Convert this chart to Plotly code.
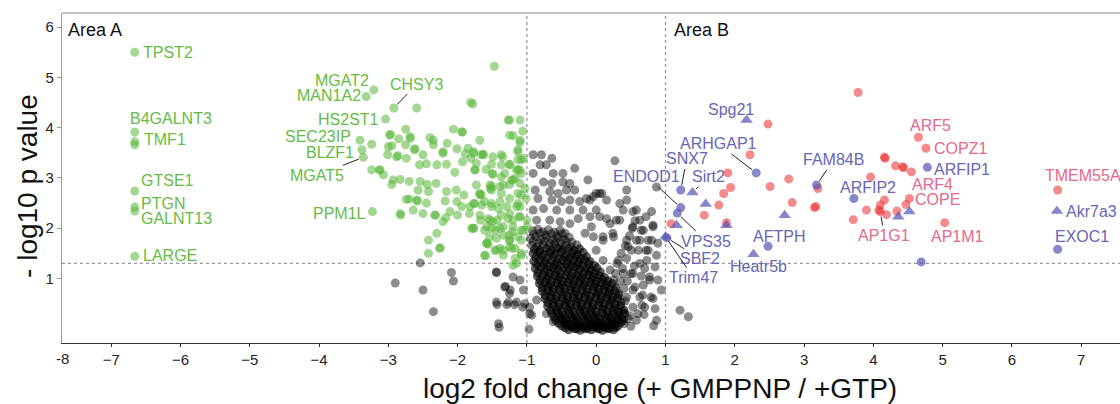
import plotly.graph_objects as go

# ---------------- DATA ----------------
fc_cut = 1.0
p_cut = 1.3

x_ticks = [-7, -6, -5, -4, -3, -2, -1, 0, 1, 2, 3, 4, 5, 6, 7]
y_ticks = [1, 2, 3, 4, 5, 6]

# non-significant proteins (black), scattered part
gray_pts = [
    # upper part of cloud
    (-0.91, 3.46), (-0.79, 3.46), (-0.64, 3.39), (-0.81, 3.26), (-0.72, 3.26), (-0.91, 3.09),
    (-0.62, 3.09), (-0.48, 3.09), (-0.31, 3.19), (-0.76, 2.92), (-0.64, 2.89), (-0.48, 2.92),
    (-0.38, 2.89), (-0.88, 2.76), (-0.67, 2.73), (-0.55, 2.69), (-0.43, 2.76), (-0.31, 2.76),
    (-0.12, 2.96), (-0.14, 2.59), (0.00, 2.69), (-0.84, 2.59), (-0.64, 2.56), (-0.50, 2.53),
    (-0.38, 2.56), (-0.24, 2.53), (-0.91, 2.36), (-0.76, 2.39), (-0.57, 2.36), (-0.38, 2.36),
    (-0.19, 2.36), (-0.09, 2.23), (-0.26, 2.19), (-0.07, 2.03), (0.00, 2.36), (-0.16, 1.90),
    (-0.04, 1.83), (-0.67, 2.16), (-0.52, 2.13), (-0.38, 2.09), (-0.86, 2.16),
    # upper-left shoulder of the core
    (-0.92, 1.95), (-0.84, 1.98), (-0.77, 1.93), (-0.69, 1.97), (-0.60, 1.92), (-0.52, 1.96), (-0.45, 1.90),
    (-0.95, 1.80), (-0.87, 1.83), (-0.80, 1.78), (-0.71, 1.82), (-0.63, 1.77), (-0.55, 1.81), (-0.47, 1.78),
    (-0.39, 1.82),
    (-0.93, 1.66), (-0.85, 1.63), (-0.77, 1.67), (-0.68, 1.64), (-0.60, 1.68), (-0.52, 1.62), (-0.44, 1.66),
    (-0.36, 1.63), (-0.28, 1.67),
    (-0.90, 1.88), (-0.81, 1.90), (-0.73, 1.86), (-0.65, 1.89), (-0.57, 1.85), (-0.49, 1.89),
    (-0.91, 1.73), (-0.83, 1.71), (-0.75, 1.74), (-0.67, 1.70), (-0.59, 1.73), (-0.51, 1.71), (-0.43, 1.74),
    (-0.35, 1.72),
    # left, below threshold
    (-1.44, 1.13), (-1.32, 0.83), (-1.20, 1.03), (-1.10, 0.97), (-1.25, 0.70), (-1.05, 0.77),
    (-1.44, 0.53), (-1.27, 0.53), (-1.15, 0.53), (-1.03, 0.50), (-0.96, 0.43), (-1.41, 0.10),
    (-0.96, 0.30), (-0.86, 0.57), (-0.72, 0.30), (-0.62, 0.14),
    (-2.90, 0.91), (-2.50, 0.77), (-2.06, 0.95), (-2.35, 0.34), (-1.43, 0.48), (-1.40, 0.03),
    (-1.29, 0.48), (-1.18, 0.48), (-1.06, 0.43), (-0.93, 0.27), (-0.97, -0.01), (-1.31, 0.84),
    (-1.24, 0.77), (-2.54, 1.31), (-2.09, 1.12), (-1.44, 1.12),
    # right arm
    (0.27, 3.34), (0.08, 2.69), (-0.04, 2.63), (0.53, 2.33), (0.80, 2.33), (0.63, 2.16),
    (0.82, 2.03), (0.68, 1.96), (0.75, 1.76), (0.58, 1.76), (0.44, 1.76), (0.46, 1.63),
    (0.61, 1.56), (0.75, 1.56), (0.89, 1.70), (0.87, 1.46), (0.73, 1.36), (0.85, 1.23),
    (0.77, 1.03), (0.89, 0.97), (0.68, 0.87), (0.53, 0.77), (0.44, 0.63), (0.63, 0.63),
    (0.82, 0.60), (0.94, 0.77), (0.53, 0.43), (0.70, 0.43), (0.85, 0.40), (0.87, 0.17),
    (0.58, 0.17), (0.32, 1.36), (0.20, 1.17), (0.39, 1.10), (0.25, 0.97), (0.05, 2.23),
    (0.20, 2.09), (0.34, 2.16), (0.39, 2.36), (0.25, 1.83), (0.10, 1.76), (0.00, 1.56),
    (0.10, 1.36), (1.21, 0.37), (1.33, 0.24), (0.44, 2.76), (0.87, 2.82),
    (0.67, 0.67), (0.79, 0.63), (0.66, 0.47), (0.83, 0.06), (0.56, 0.83), (0.48, 0.26),
    (0.69, 0.28), (0.72, 2.23), (0.58, 2.36), (0.53, 2.03), (0.65, 1.96), (0.82, 2.06),
    (0.80, 1.76), (0.63, 1.76), (0.51, 1.56), (0.44, 1.40), (0.72, 1.56), (0.63, 1.30),
    (0.53, 1.10), (0.77, 0.97), (0.29, 2.16), (0.15, 2.19), (0.10, 1.83), (0.24, 1.90),
    (0.44, 2.56), (0.34, 2.49), (0.15, 2.56), (0.05, 2.69), (-0.09, 2.56),
    (0.30, 1.30), (0.36, 1.50), (0.42, 1.65), (0.48, 1.85), (0.52, 2.00), (0.56, 2.15),
    (0.28, 1.10), (0.35, 0.95), (0.40, 0.80), (0.45, 0.95), (0.50, 1.10), (0.55, 1.25),
    (0.38, 1.20), (0.33, 0.70), (0.42, 0.55), (0.38, 0.35), (0.46, 0.20), (0.50, 0.05),
    (0.40, 0.10), (0.60, 0.30), (0.65, 1.05), (0.70, 1.20),
]

# non-significant proteins (black), dense core near the origin
core_pts = [
    (-0.91, 1.50), (-0.83, 1.53), (-0.75, 1.48), (-0.67, 1.52), (-0.59, 1.49), (-0.51, 1.53), (-0.43, 1.47),
    (-0.35, 1.51), (-0.27, 1.48), (-0.19, 1.52),
    (-0.90, 1.34), (-0.82, 1.37), (-0.74, 1.33), (-0.65, 1.36), (-0.57, 1.32), (-0.49, 1.37), (-0.41, 1.34),
    (-0.33, 1.36), (-0.25, 1.33), (-0.17, 1.37), (-0.09, 1.34),
    (-0.88, 1.20), (-0.80, 1.22), (-0.71, 1.18), (-0.63, 1.21), (-0.55, 1.17), (-0.47, 1.22), (-0.39, 1.19),
    (-0.31, 1.23), (-0.23, 1.18), (-0.15, 1.21), (-0.07, 1.17), (0.01, 1.21),
    (-0.85, 1.05), (-0.77, 1.07), (-0.69, 1.03), (-0.60, 1.06), (-0.52, 1.02), (-0.44, 1.07), (-0.36, 1.04),
    (-0.28, 1.06), (-0.20, 1.02), (-0.12, 1.07), (-0.04, 1.03), (0.04, 1.06), (0.12, 1.02),
    (-0.82, 0.90), (-0.74, 0.92), (-0.66, 0.88), (-0.57, 0.91), (-0.49, 0.87), (-0.41, 0.92), (-0.33, 0.89),
    (-0.25, 0.91), (-0.17, 0.87), (-0.09, 0.92), (-0.01, 0.88), (0.07, 0.91), (0.15, 0.87), (0.23, 0.90),
    (-0.78, 0.75), (-0.70, 0.77), (-0.62, 0.73), (-0.53, 0.76), (-0.45, 0.72), (-0.37, 0.77), (-0.29, 0.74),
    (-0.21, 0.76), (-0.13, 0.72), (-0.05, 0.77), (0.03, 0.73), (0.11, 0.76), (0.19, 0.72), (0.27, 0.75),
    (-0.74, 0.60), (-0.66, 0.62), (-0.58, 0.58), (-0.49, 0.61), (-0.41, 0.57), (-0.33, 0.62), (-0.25, 0.59),
    (-0.17, 0.61), (-0.09, 0.57), (-0.01, 0.62), (0.07, 0.58), (0.15, 0.61), (0.23, 0.57), (0.31, 0.60),
    (-0.70, 0.45), (-0.62, 0.47), (-0.54, 0.43), (-0.45, 0.46), (-0.37, 0.42), (-0.29, 0.47), (-0.21, 0.44),
    (-0.13, 0.46), (-0.05, 0.42), (0.03, 0.47), (0.11, 0.43), (0.19, 0.46), (0.27, 0.42), (0.35, 0.45),
    (-0.64, 0.30), (-0.56, 0.32), (-0.48, 0.28), (-0.39, 0.31), (-0.31, 0.27), (-0.23, 0.32), (-0.15, 0.29),
    (-0.07, 0.31), (0.01, 0.27), (0.09, 0.32), (0.17, 0.28), (0.25, 0.31), (0.33, 0.27), (0.41, 0.30),
    (-0.58, 0.17), (-0.50, 0.19), (-0.42, 0.15), (-0.33, 0.18), (-0.25, 0.14), (-0.17, 0.19), (-0.09, 0.16),
    (-0.01, 0.18), (0.07, 0.14), (0.15, 0.19), (0.23, 0.15), (0.31, 0.18), (0.39, 0.16),
    (-0.50, 0.06), (-0.42, 0.08), (-0.34, 0.04), (-0.25, 0.07), (-0.17, 0.03), (-0.09, 0.08), (-0.01, 0.05),
    (0.07, 0.07), (0.15, 0.03), (0.23, 0.08), (0.31, 0.05),
    (-0.40, -0.02), (-0.31, 0.00), (-0.23, -0.03), (-0.15, 0.00), (-0.07, -0.02), (0.01, 0.01), (0.09, -0.03),
    (0.17, 0.00), (0.25, -0.02),
    (-0.89, 1.58), (-0.81, 1.56), (-0.72, 1.59), (-0.64, 1.56), (-0.56, 1.60), (-0.48, 1.57), (-0.40, 1.59),
    (-0.32, 1.56), (-0.24, 1.59),
    (-0.87, 1.42), (-0.79, 1.44), (-0.70, 1.41), (-0.62, 1.44), (-0.54, 1.40), (-0.46, 1.43), (-0.38, 1.41),
    (-0.30, 1.44), (-0.22, 1.40), (-0.14, 1.43),
    (-0.85, 1.27), (-0.76, 1.29), (-0.68, 1.25), (-0.60, 1.28), (-0.52, 1.25), (-0.43, 1.29), (-0.35, 1.26),
    (-0.27, 1.28), (-0.19, 1.25), (-0.11, 1.29), (-0.03, 1.26),
    (-0.84, 1.12), (-0.75, 1.14), (-0.67, 1.10), (-0.59, 1.13), (-0.51, 1.09), (-0.42, 1.14), (-0.34, 1.11),
    (-0.26, 1.13), (-0.18, 1.09), (-0.10, 1.14), (-0.02, 1.10), (0.06, 1.13),
    (-0.81, 0.97), (-0.72, 0.99), (-0.64, 0.95), (-0.56, 0.98), (-0.48, 0.94), (-0.39, 0.99), (-0.31, 0.96),
    (-0.23, 0.98), (-0.15, 0.94), (-0.07, 0.99), (0.01, 0.95), (0.09, 0.98), (0.17, 0.95),
    (-0.78, 0.82), (-0.70, 0.84), (-0.61, 0.80), (-0.53, 0.83), (-0.45, 0.79), (-0.37, 0.84), (-0.29, 0.81),
    (-0.20, 0.83), (-0.12, 0.79), (-0.04, 0.84), (0.04, 0.80), (0.12, 0.83), (0.20, 0.79), (0.28, 0.82),
    (-0.74, 0.67), (-0.66, 0.69), (-0.57, 0.65), (-0.49, 0.68), (-0.41, 0.64), (-0.33, 0.69), (-0.25, 0.66),
    (-0.16, 0.68), (-0.08, 0.64), (0.00, 0.69), (0.08, 0.65), (0.16, 0.68), (0.24, 0.64), (0.32, 0.67),
    (-0.70, 0.52), (-0.62, 0.54), (-0.53, 0.50), (-0.45, 0.53), (-0.37, 0.49), (-0.29, 0.54), (-0.21, 0.51),
    (-0.12, 0.53), (-0.04, 0.49), (0.04, 0.54), (0.12, 0.50), (0.20, 0.53), (0.28, 0.49), (0.36, 0.52),
    (-0.66, 0.37), (-0.58, 0.39), (-0.49, 0.35), (-0.41, 0.38), (-0.33, 0.34), (-0.25, 0.39), (-0.17, 0.36),
    (-0.08, 0.38), (0.00, 0.34), (0.08, 0.39), (0.16, 0.35), (0.24, 0.38), (0.32, 0.34), (0.40, 0.37),
    (-0.61, 0.23), (-0.53, 0.25), (-0.44, 0.21), (-0.36, 0.24), (-0.28, 0.20), (-0.20, 0.25), (-0.12, 0.22),
    (-0.03, 0.24), (0.05, 0.20), (0.13, 0.25), (0.21, 0.21), (0.29, 0.24), (0.37, 0.20),
    (-0.54, 0.11), (-0.46, 0.13), (-0.37, 0.09), (-0.29, 0.12), (-0.21, 0.08), (-0.13, 0.13), (-0.05, 0.10),
    (0.03, 0.12), (0.11, 0.08), (0.19, 0.13), (0.27, 0.10), (0.35, 0.12),
    (-0.45, 0.02), (-0.36, 0.04), (-0.28, 0.00), (-0.20, 0.03), (-0.12, 0.01), (-0.04, 0.04), (0.04, 0.00),
    (0.12, 0.03), (0.20, 0.01), (0.28, 0.03),
]

# Area A: depleted proteins (green)
green_pts = [
    (-6.66, 5.50), (-6.66, 3.91), (-6.66, 3.72), (-6.66, 3.66), (-6.66, 2.74), (-6.66, 2.42),
    (-6.66, 2.34), (-6.66, 1.44),
    (-3.21, 4.75), (-3.32, 4.62), (-3.04, 4.17), (-2.92, 4.39), (-3.41, 3.75), (-3.38, 3.56),
    (-3.36, 3.41), (-3.23, 2.33),
    (-1.47, 5.22), (-2.59, 4.39), (-1.81, 4.50), (-1.78, 4.47), (-2.75, 3.97), (-2.97, 3.87),
    (-2.69, 3.82), (-2.85, 3.78), (-2.40, 3.80), (-2.06, 3.97), (-1.93, 3.91), (-1.25, 4.15),
    (-1.10, 4.15), (-1.20, 3.84), (-1.06, 3.93), (-1.10, 3.71), (-3.24, 3.67), (-3.01, 3.46),
    (-2.86, 3.44), (-2.95, 3.64), (-2.75, 3.66), (-2.62, 3.58), (-2.35, 3.66), (-2.21, 3.52),
    (-2.15, 3.69), (-2.01, 3.58), (-1.89, 3.48), (-1.77, 3.52), (-1.63, 3.47), (-1.51, 3.27),
    (-1.37, 3.46), (-1.25, 3.27), (-1.13, 3.17), (-1.05, 3.39), (-2.55, 3.26), (-2.45, 3.28),
    (-2.30, 3.26), (-2.16, 3.27), (-2.04, 3.11), (-1.93, 3.32), (-1.75, 3.16), (-1.49, 3.07),
    (-1.32, 3.09), (-1.17, 2.99), (-3.24, 3.16), (-3.13, 3.16), (-3.07, 3.06), (-2.95, 2.87),
    (-2.83, 2.97), (-2.70, 2.93), (-2.54, 2.93), (-2.44, 2.87), (-2.31, 2.89), (-2.57, 2.76),
    (-2.42, 2.73), (-2.16, 2.73), (-2.02, 2.76), (-1.91, 2.66), (-1.68, 2.67), (-1.53, 2.79),
    (-1.39, 2.83), (-1.25, 2.87), (-1.03, 2.79), (-2.70, 2.58), (-2.58, 2.54), (-2.45, 2.50),
    (-2.18, 2.54), (-2.01, 2.53), (-1.82, 2.43), (-1.65, 2.46), (-1.51, 2.49), (-1.41, 2.39),
    (-1.29, 2.43), (-1.15, 2.43), (-1.01, 2.59), (-2.82, 2.26), (-2.32, 2.26), (-2.17, 2.21),
    (-2.00, 2.26), (-1.83, 2.29), (-1.67, 2.16), (-1.56, 2.19), (-1.43, 2.16), (-1.27, 2.19),
    (-1.11, 2.23), (-1.00, 2.16), (-1.77, 2.00), (-1.58, 2.03), (-1.45, 1.96), (-1.34, 1.86),
    (-1.21, 1.93), (-1.05, 1.96), (-1.54, 1.83), (-1.25, 1.76), (-2.25, 1.61), (-2.42, 1.50),
    (-1.60, 1.45), (-1.56, 1.68), (-1.39, 1.60), (-1.17, 1.60), (-1.08, 1.50), (-1.34, 1.46),
    (-1.17, 1.40),
    (-1.77, 3.49), (-1.63, 3.46), (-1.73, 3.29), (-1.75, 3.16), (-1.59, 3.17), (-1.50, 3.09),
    (-1.35, 3.42), (-1.25, 3.26), (-1.13, 3.52), (-1.08, 3.36), (-1.08, 3.09), (-1.15, 3.16),
    (-1.73, 2.86), (-1.53, 2.86), (-1.34, 2.86), (-1.22, 2.96), (-1.10, 2.89), (-1.68, 2.69),
    (-1.51, 2.76), (-1.37, 2.69), (-1.25, 2.59), (-1.13, 2.69), (-1.75, 2.49), (-1.61, 2.53),
    (-1.51, 2.43), (-1.39, 2.53), (-1.13, 2.49), (-1.68, 2.26), (-1.53, 2.16), (-1.37, 2.26),
    (-1.25, 2.29), (-1.10, 2.23), (-1.77, 2.00), (-1.51, 2.00), (-1.34, 2.03), (-1.20, 2.03),
    (-1.08, 1.96), (-1.58, 1.70), (-1.44, 1.80), (-1.25, 1.76), (-1.13, 1.83), (-1.61, 1.46),
    (-1.46, 1.56), (-1.34, 1.56), (-1.22, 1.60), (-1.08, 1.46), (-1.20, 1.26), (-1.15, 1.30),
    (-2.68, 3.79), (-2.98, 3.85), (-3.00, 3.62), (-2.88, 3.42), (-2.74, 3.39), (-2.62, 3.56),
    (-2.50, 3.46), (-2.35, 3.75), (-2.21, 3.49), (-1.94, 3.92), (-1.85, 3.59), (-1.81, 3.39),
    (-1.68, 3.75), (-1.66, 3.46), (-1.49, 3.42), (-1.37, 3.26), (-1.13, 3.36), (-1.13, 3.56),
    (-1.27, 4.15), (-1.25, 3.85), (-1.10, 3.75), (-1.10, 3.16), (-1.20, 2.96), (-1.37, 3.02),
    (-1.51, 2.83), (-1.66, 2.66), (-1.77, 2.49), (-1.94, 2.43), (-2.11, 2.33), (-2.21, 2.13),
    (-2.30, 1.90), (-2.33, 2.26), (-2.50, 2.29), (-2.64, 2.36), (-2.59, 2.56), (-2.74, 2.57),
    (-2.83, 2.29), (-2.42, 1.76), (-2.26, 1.60), (-1.61, 1.96), (-1.49, 2.13), (-1.39, 2.00),
    (-1.25, 1.86), (-1.20, 2.16), (-1.10, 2.43), (-1.08, 2.66), (-1.00, 2.03), (-1.80, 2.00),
    (-1.58, 1.70), (-1.44, 1.56), (-1.25, 1.63), (-1.08, 1.76), (-3.12, 3.16), (-2.93, 2.96),
]

# Area B: enriched proteins (red)
red_pts = [
    (2.48, 4.07), (3.78, 4.70), (2.22, 3.46), (1.90, 3.10), (1.94, 2.81), (1.84, 2.69),
    (1.77, 2.46), (1.56, 2.26), (1.88, 2.11), (1.08, 2.09), (2.78, 2.98), (2.51, 2.83),
    (2.83, 2.51), (3.15, 2.41), (3.17, 2.43), (3.20, 2.79), (3.71, 2.17),
    (4.65, 3.81), (4.76, 3.59), (4.16, 3.41), (4.17, 3.39), (4.32, 3.24), (4.42, 3.22),
    (4.44, 3.20), (4.55, 3.12), (3.96, 3.02), (4.16, 2.56), (4.10, 2.46), (4.08, 2.36),
    (4.10, 2.33), (4.19, 2.27), (3.90, 2.36), (4.34, 2.34), (4.52, 2.59), (4.47, 2.47),
    (5.03, 2.11), (6.66, 2.76),
]

# Area B: other known proteins (blue circles / triangles)
blue_circle_pts = [
    (2.31, 3.10), (1.22, 2.76), (1.22, 2.41), (1.17, 2.30), (1.02, 1.81), (2.48, 1.64),
    (3.18, 2.86), (3.72, 2.59), (4.78, 3.21), (4.69, 1.33), (6.66, 1.58),
]
blue_tri_pts = [
    (2.17, 4.15), (1.39, 2.71), (1.16, 2.06), (1.00, 1.83), (1.58, 2.48), (1.88, 2.06),
    (2.27, 1.48), (2.72, 2.26), (4.36, 2.23), (4.52, 2.33), (6.65, 2.34),
]

# labels: (name, x, y, group)
labels = [
    ("TPST2", -6.66, 5.50, "g"), ("B4GALNT3", -6.66, 3.91, "g"), ("TMF1", -6.66, 3.72, "g"),
    ("GTSE1", -6.66, 2.74, "g"), ("PTGN", -6.66, 2.42, "g"), ("GALNT13", -6.66, 2.34, "g"),
    ("LARGE", -6.66, 1.44, "g"), ("MGAT2", -3.21, 4.75, "g"), ("MAN1A2", -3.32, 4.62, "g"),
    ("HS2ST1", -3.04, 4.17, "g"), ("CHSY3", -2.92, 4.39, "g"), ("SEC23IP", -3.41, 3.75, "g"),
    ("BLZF1", -3.38, 3.56, "g"), ("MGAT5", -3.36, 3.41, "g"), ("PPM1L", -3.23, 2.33, "g"),
    ("Spg21", 2.17, 4.15, "b"), ("ARHGAP1", 2.31, 3.10, "b"), ("SNX7", 1.22, 2.76, "b"),
    ("Sirt2", 1.39, 2.71, "b"), ("ENDOD1", 1.22, 2.41, "b"), ("VPS35", 1.17, 2.30, "b"),
    ("SBF2", 1.02, 1.81, "b"), ("Trim47", 1.00, 1.83, "b"), ("AFTPH", 2.48, 1.64, "b"),
    ("Heatr5b", 2.27, 1.48, "b"), ("FAM84B", 3.18, 2.86, "b"), ("ARFIP2", 3.72, 2.59, "b"),
    ("ARFIP1", 4.78, 3.21, "b"), ("Akr7a3", 6.65, 2.34, "b"), ("EXOC1", 6.66, 1.58, "b"),
    ("ARF5", 4.65, 3.81, "r"), ("COPZ1", 4.76, 3.59, "r"), ("ARF4", 4.52, 2.59, "r"),
    ("COPE", 4.47, 2.47, "r"), ("AP1G1", 4.10, 2.33, "r"), ("AP1M1", 5.03, 2.11, "r"),
    ("TMEM55A", 6.66, 2.76, "r"),
]

# ---------------- STYLE / LABEL PLACEMENT ----------------
FONT = "Liberation Sans, Arial, Helvetica, sans-serif"
label_colors = {"g": "#66bb44", "b": "#6666b4", "r": "#e6688a"}
# name: (anchor, dx, dy, leader)  -- pixel offsets of the text from its point
placement = {
    "TPST2": ("left", 6, 0, False), "B4GALNT3": ("center", 36, -14, False),
    "TMF1": ("left", 7, -2, False), "GTSE1": ("left", 4, -11, False),
    "PTGN": ("left", 4, -4, False), "GALNT13": ("left", 4, 7, False),
    "LARGE": ("left", 6, -1, False), "MGAT2": ("right", -3, -9, False),
    "MAN1A2": ("right", -3, -1, False), "HS2ST1": ("right", -5, 0, False),
    "CHSY3": ("center", 23, -24, True), "SEC23IP": ("right", -7, -4, False),
    "BLZF1": ("right", -6, 3, False), "MGAT5": ("center", -46, 18, True),
    "PPM1L": ("right", -4, 2, False),
    "Spg21": ("center", -16, -11, False), "ARHGAP1": ("center", -38, -29, True),
    "SNX7": ("center", 6, -31, True), "Sirt2": ("center", 16, -16, True),
    "ENDOD1": ("center", -34, -31, True), "VPS35": ("center", 29, 28, True),
    "SBF2": ("center", 33, 21, True), "Trim47": ("center", 28, 41, True),
    "AFTPH": ("center", 11, -10, False), "Heatr5b": ("center", 5, 12, False),
    "FAM84B": ("center", 17, -25, True), "ARFIP2": ("center", 14, -11, False),
    "ARFIP1": ("left", 5, 2, False), "Akr7a3": ("left", 7, 0, False),
    "EXOC1": ("center", 24, -13, False),
    "ARF5": ("center", 12, -12, False), "COPZ1": ("left", 6, 0, False),
    "ARF4": ("center", 23, -14, False), "COPE": ("center", 32, -5, False),
    "AP1G1": ("center", 4, 24, True), "AP1M1": ("center", 13, 14, False),
    "TMEM55A": ("center", 25, -14, False),
}


def xs(pts):
    return [p[0] for p in pts]


def ys(pts):
    return [p[1] for p in pts]


fig = go.Figure()
fig.add_trace(go.Scatter(x=xs(gray_pts), y=ys(gray_pts), mode="markers",
                         marker=dict(size=9, color="rgba(0,0,0,0.45)"), hoverinfo="skip"))
fig.add_trace(go.Scatter(x=xs(core_pts), y=ys(core_pts), mode="markers",
                         marker=dict(size=9, color="rgba(0,0,0,0.62)"), hoverinfo="skip"))
fig.add_trace(go.Scatter(x=xs(green_pts), y=ys(green_pts), mode="markers",
                         marker=dict(size=9, color="rgba(88,182,56,0.55)"), hoverinfo="skip"))
fig.add_trace(go.Scatter(x=xs(red_pts), y=ys(red_pts), mode="markers",
                         marker=dict(size=9, color="rgba(234,44,48,0.55)"), hoverinfo="skip"))
fig.add_trace(go.Scatter(x=xs(blue_circle_pts), y=ys(blue_circle_pts), mode="markers",
                         marker=dict(size=9, color="rgba(84,84,180,0.7)"), hoverinfo="skip"))
fig.add_trace(go.Scatter(x=xs(blue_tri_pts), y=ys(blue_tri_pts), mode="markers",
                         marker=dict(size=11, symbol="triangle-up", color="rgba(84,84,180,0.7)"),
                         hoverinfo="skip"))

annotations = []
for name, x, y, grp in labels:
    anchor, dx, dy, leader = placement[name]
    col = label_colors[grp]
    if leader:
        annotations.append(dict(x=x, y=y, xref="x", yref="y", text=name, showarrow=True,
                                ax=dx, ay=dy, arrowhead=0, arrowwidth=1, arrowcolor="#222",
                                standoff=5, font=dict(family=FONT, size=16, color=col)))
    else:
        annotations.append(dict(x=x, y=y, xref="x", yref="y", text=name, showarrow=False,
                                xanchor=anchor, yanchor="middle", xshift=dx, yshift=-dy,
                                font=dict(family=FONT, size=16, color=col)))

annotations += [
    dict(x=0, y=1, xref="paper", yref="paper", text="Area A", showarrow=False,
         xanchor="left", yanchor="top", xshift=4, yshift=-5,
         font=dict(family=FONT, size=18, color="#111")),
    dict(x=fc_cut, y=1, xref="x", yref="paper", text="Area B", showarrow=False,
         xanchor="left", yanchor="top", xshift=7, yshift=-5,
         font=dict(family=FONT, size=18, color="#111")),
    dict(x=0, y=0, xref="paper", yref="paper", text="-8", showarrow=False,
         xanchor="center", yanchor="middle", yshift=-15,
         font=dict(family=FONT, size=15, color="#222")),
    dict(x=0.565, y=0, xref="paper", yref="paper", text="log2 fold change (+ GMPPNP / +GTP)",
         showarrow=False, xanchor="center", yanchor="top", yshift=-28,
         font=dict(family=FONT, size=28, color="#111")),
    dict(x=0, y=0.476, xref="paper", yref="paper", text="- log10 p value", showarrow=False,
         textangle=-90, xanchor="center", yanchor="middle", xshift=-34,
         font=dict(family=FONT, size=28, color="#111")),
]

shapes = [
    dict(type="line", xref="paper", yref="y", x0=0, x1=1, y0=p_cut, y1=p_cut,
         line=dict(color="#999", width=1.3, dash="dot"), layer="below"),
    dict(type="line", xref="x", yref="paper", x0=-fc_cut, x1=-fc_cut, y0=0, y1=1,
         line=dict(color="#999", width=1.3, dash="dot"), layer="below"),
    dict(type="line", xref="x", yref="paper", x0=fc_cut, x1=fc_cut, y0=0, y1=1,
         line=dict(color="#999", width=1.3, dash="dot"), layer="below"),
    dict(type="line", xref="paper", yref="paper", x0=0, x1=1, y0=1, y1=1,
         line=dict(color="#888", width=1)),
]

fig.update_layout(
    width=1120, height=404, margin=dict(l=62, r=0, t=13, b=61),
    plot_bgcolor="white", paper_bgcolor="white", showlegend=False,
    font=dict(family=FONT),
    annotations=annotations, shapes=shapes,
    xaxis=dict(range=[-7.71, 7.56], tickvals=x_ticks, showline=True, linecolor="#333",
               linewidth=1.2, ticks="outside", ticklen=3, tickcolor="#333", showgrid=False,
               zeroline=False, tickfont=dict(family=FONT, size=15, color="#222")),
    yaxis=dict(range=[-0.283, 6.28], tickvals=y_ticks, showline=True, linecolor="#999",
               linewidth=1.2, ticks="outside", ticklen=4, tickcolor="#999", showgrid=False,
               zeroline=False, tickfont=dict(family=FONT, size=15, color="#222")),
)

fig.write_html("out.html", config={"displayModeBar": False},
               post_script="document.body.style.margin='0px';document.body.style.overflow='hidden';")
